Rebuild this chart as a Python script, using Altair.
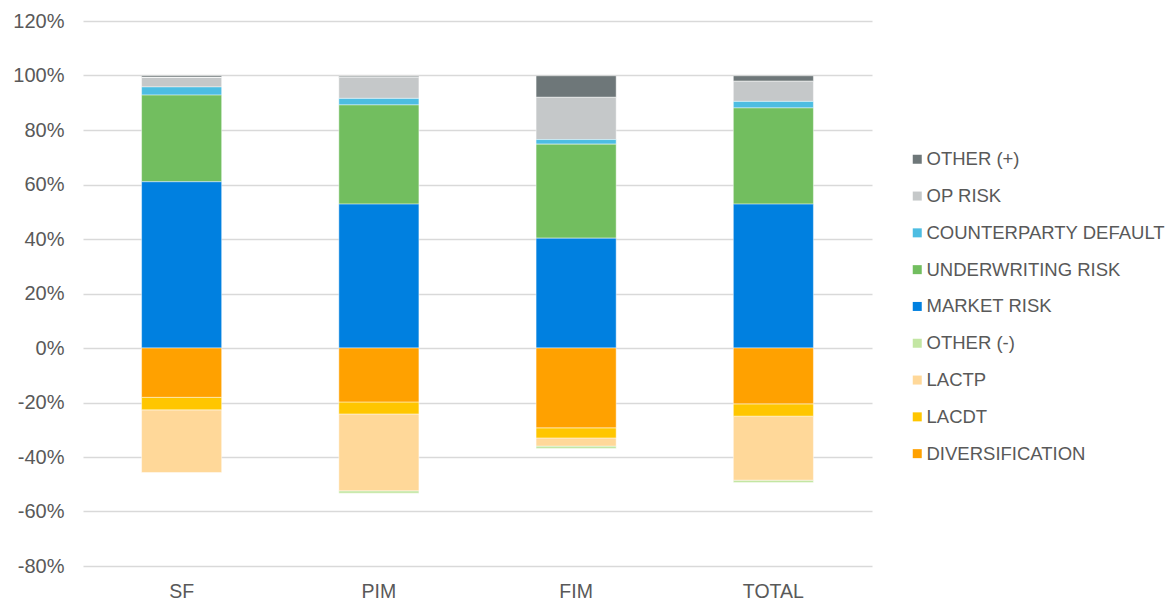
import altair as alt
import pandas as pd

# Solvency capital requirement breakdown by calculation method (share of SCR)
categories = ["SF", "PIM", "FIM", "TOTAL"]

components = [
    "OTHER (+)", "OP RISK", "COUNTERPARTY DEFAULT", "UNDERWRITING RISK",
    "MARKET RISK", "OTHER (-)", "LACTP", "LACDT", "DIVERSIFICATION",
]
colors = [
    "#6E7779", "#C5C8C9", "#4DBDE2", "#72BE5F",
    "#0080E0", "#C3E6A3", "#FFD899", "#FFC600", "#FFA100",
]
# position of each component in its stack, counted outward from zero
stack_rank = [4, 3, 2, 1, 0, 3, 2, 1, 0]

# values in percent, one list per component, in category order
other_pos = [0.6, 0.4, 7.9, 2.0]
op_risk = [3.5, 7.7, 15.5, 7.4]
counterparty = [3.0, 2.4, 1.7, 2.4]
underwriting = [31.8, 36.4, 34.5, 35.3]
market = [61.0, 52.8, 40.3, 52.8]
other_neg = [0.0, -0.9, -0.9, -0.9]
lactp = [-23.0, -28.2, -3.0, -23.5]
lacdt = [-4.6, -4.4, -3.7, -4.5]
diversification = [-18.1, -19.8, -29.3, -20.5]

series = [other_pos, op_risk, counterparty, underwriting, market,
          other_neg, lactp, lacdt, diversification]

rows = []
for name, rank, vals in zip(components, stack_rank, series):
    for cat, v in zip(categories, vals):
        rows.append({"method": cat, "component": name,
                     "rank": rank, "share": v / 100.0})
df = pd.DataFrame(rows)

label_color = "#595959"
font = "Liberation Sans"

chart = alt.Chart(df).mark_bar(
    stroke="white", strokeWidth=0.75, strokeOpacity=0.6
).encode(
    x=alt.X("method:N", sort=categories, title=None,
            scale=alt.Scale(paddingInner=0.594, paddingOuter=0.297),
            axis=alt.Axis(labelAngle=0, labelFontSize=19.5, labelColor=label_color,
                          labelFont=font, ticks=False, domain=False,
                          labelPadding=16, grid=False)),
    y=alt.Y("share:Q", stack="zero", title=None,
            scale=alt.Scale(domain=[-0.8, 1.2], nice=False),
            axis=alt.Axis(format=".0%", values=[i / 10 for i in range(-8, 13, 2)],
                          labelExpr="replace(datum.label, '\u2212', '-')",
                          labelFontSize=20, labelColor=label_color, labelFont=font,
                          ticks=False, domain=False, labelPadding=19,
                          gridColor="#D9D9D9", gridWidth=1.3)),
    color=alt.Color("component:N",
                    scale=alt.Scale(domain=components, range=colors),
                    legend=alt.Legend(title=None, orient="none", legendX=825, legendY=129,
                                      symbolType="square", symbolSize=81,
                                      symbolStrokeWidth=0, labelFontSize=18.5,
                                      labelColor=label_color, labelFont=font,
                                      rowPadding=17.8, padding=0, labelOffset=0,
                                      labelLimit=300)),
    order=alt.Order("rank:Q", sort="ascending"),
).properties(
    width=789, height=545,
    autosize=alt.AutoSizeParams(type="none"),
    padding={"left": 83, "top": 21, "right": 300, "bottom": 34},
).configure(background="white").configure_view(stroke=None)

chart.save("out.html", embed_options={"renderer": "svg", "actions": False})
